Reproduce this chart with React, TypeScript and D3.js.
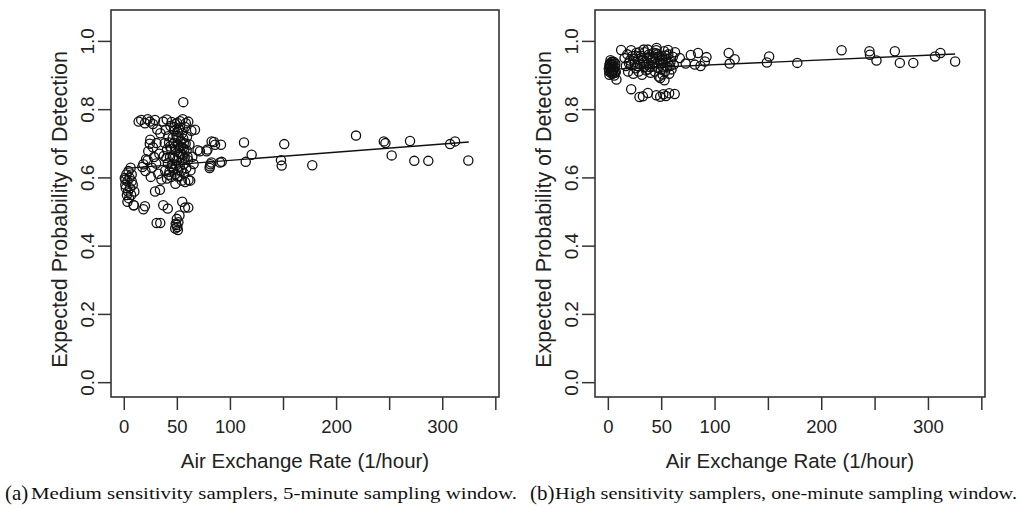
import { scaleLinear, line } from "d3";

const width = 1021;
const height = 508;

// air exchange rate (1/hour), expected probability of detection
const pointsA: [number, number][] = [
  // low rates
  [0.5, 0.6], [1, 0.58], [1.5, 0.57], [2, 0.61], [2.5, 0.55], [3, 0.59], [3.5, 0.56], [4, 0.62],
  [4.5, 0.54], [5, 0.6], [5.5, 0.57], [6, 0.63], [6.5, 0.55], [7, 0.61], [8, 0.58], [9, 0.52],
  [9.5, 0.56], [3, 0.53], [7, 0.59], [1, 0.595], [8.8, 0.52],
  // top row
  [13.5, 0.765], [16, 0.77], [19.5, 0.76], [22, 0.772], [24.2, 0.765], [27, 0.758], [28.9, 0.77],
  [36.7, 0.765], [40, 0.771], [44.6, 0.764], [48, 0.758], [52.5, 0.766], [55, 0.772], [58, 0.76],
  [60.3, 0.765], [55.6, 0.822],
  // 15-35
  [18, 0.64], [20, 0.62], [22, 0.652], [24, 0.7], [24.5, 0.712], [22.6, 0.678], [26, 0.63],
  [28, 0.661], [30, 0.642], [30.4, 0.702], [32, 0.612], [33, 0.671], [34, 0.731], [35, 0.595],
  [33.6, 0.565], [29, 0.56], [25, 0.603], [20.5, 0.655], [17, 0.632], [27, 0.69], [31, 0.742],
  // dense block
  [38.5, 0.621], [37.2, 0.664], [38.1, 0.702], [39, 0.741], [40.3, 0.598], [41, 0.643],
  [40.2, 0.683], [41.4, 0.722], [42.6, 0.618], [43.1, 0.661], [42.2, 0.704], [43.5, 0.752],
  [44.4, 0.603], [45.2, 0.641], [44.1, 0.684], [45.7, 0.718], [46.3, 0.624], [47.1, 0.658],
  [46.6, 0.702], [47.4, 0.738], [48.2, 0.583], [48.9, 0.637], [48.4, 0.679], [49.2, 0.723],
  [50.1, 0.604], [50.6, 0.622], [51.2, 0.662], [50.4, 0.698], [51.5, 0.742], [52.3, 0.633],
  [52.8, 0.671], [53.1, 0.709], [52.6, 0.748], [54.2, 0.592], [54.7, 0.652], [55.1, 0.688],
  [54.4, 0.731], [56.3, 0.613], [56.9, 0.659], [56.1, 0.702], [57.2, 0.749], [58.4, 0.628],
  [58.7, 0.681], [59.1, 0.721], [60.2, 0.652], [60.5, 0.594], [62.1, 0.592], [57.3, 0.588],
  [61.4, 0.698], [63.2, 0.738], [64.1, 0.662], [65.3, 0.641], [62.4, 0.622],
  [45.8, 0.662], [47.9, 0.611], [49.6, 0.652], [51.8, 0.688], [53.7, 0.621], [55.8, 0.641],
  [46.9, 0.749], [49.8, 0.761], [51.1, 0.719], [53.4, 0.692], [55.6, 0.715], [57.8, 0.701],
  [44.8, 0.631], [47.5, 0.691], [50.3, 0.735], [52.1, 0.605], [54.9, 0.668], [56.6, 0.684],
  [43.2, 0.692], [59.6, 0.662], [39.7, 0.658], [41.9, 0.609],
  // right edge of cluster
  [66.6, 0.741], [69.1, 0.681], [71.3, 0.678], [77.6, 0.678], [78.4, 0.683], [80.7, 0.634],
  [80.4, 0.629], [81.2, 0.64], [82.3, 0.707], [84.5, 0.705], [85.5, 0.697], [91.1, 0.697],
  [91.8, 0.647], [90.2, 0.645], [82.1, 0.645],
  // lower
  [19.5, 0.517], [18, 0.508], [30.5, 0.468], [33.9, 0.468], [36.7, 0.52], [41, 0.51],
  [48, 0.452], [49, 0.462], [50, 0.456], [51, 0.47], [49.5, 0.48], [48.5, 0.466], [50.5, 0.447],
  [57.2, 0.513], [60.3, 0.513], [52, 0.49], [54.6, 0.53],
  // sparse
  [112.8, 0.704], [114.4, 0.647], [120, 0.668], [147.6, 0.652], [148.3, 0.636], [150.7, 0.699],
  [177.1, 0.637], [218.3, 0.724], [244.5, 0.707], [246, 0.702], [251.9, 0.666], [269.2, 0.708],
  [273.2, 0.65], [286.4, 0.65], [306.9, 0.699], [311.6, 0.707], [324.1, 0.651],
];

const pointsB: [number, number][] = [
  // low rates
  [0.5, 0.92], [1, 0.902], [1.5, 0.935], [2, 0.91], [2.5, 0.925], [3, 0.94], [3.5, 0.905],
  [4, 0.93], [4.5, 0.915], [5, 0.94], [5.5, 0.9], [6, 0.925], [1, 0.93], [2, 0.945], [3, 0.915],
  [4, 0.906], [6.5, 0.935], [7.6, 0.888], [7, 0.91], [0.8, 0.912], [2.8, 0.932], [5.2, 0.918],
  [1.8, 0.922], [4.2, 0.938], [6.2, 0.908],
  // top row
  [12, 0.975], [21.4, 0.974], [37, 0.976], [45, 0.974], [56, 0.975],
  // main block
  [15.2, 0.951], [16.4, 0.928], [17.8, 0.962], [18.5, 0.912], [20.1, 0.944], [21.3, 0.931],
  [22.6, 0.957], [23.4, 0.905], [24.9, 0.94], [25.7, 0.921], [26.2, 0.966], [27.8, 0.948],
  [28.4, 0.912], [29.6, 0.933], [30.3, 0.958], [31.5, 0.902], [32.2, 0.944], [33.6, 0.925],
  [34.1, 0.968], [35.4, 0.915], [36.3, 0.951], [37.7, 0.936], [38.2, 0.962], [39.5, 0.908],
  [40.1, 0.945], [41.4, 0.926], [42.3, 0.967], [43.6, 0.912], [44.2, 0.952], [45.5, 0.935],
  [46.1, 0.962], [47.3, 0.897], [48.2, 0.944], [49.4, 0.918], [50.1, 0.958], [50.8, 0.903],
  [51.6, 0.937], [52.3, 0.971], [53.2, 0.912], [54.1, 0.948], [55.3, 0.926], [56.2, 0.962],
  [57.1, 0.905], [58.3, 0.941], [59.2, 0.918], [60.4, 0.955], [61.3, 0.932], [62.5, 0.968],
  [48.7, 0.893], [52.6, 0.886], [45.2, 0.981], [33.1, 0.976],
  [19.3, 0.936], [23.8, 0.949], [27.1, 0.928], [31.2, 0.952], [35.8, 0.932], [39.2, 0.955],
  [42.8, 0.938], [46.7, 0.922], [49.1, 0.935], [51.3, 0.924], [53.8, 0.958], [57.6, 0.928],
  [28.9, 0.968], [36.8, 0.918], [44.7, 0.965], [50.6, 0.948], [55.9, 0.941], [41.9, 0.951],
  [47.8, 0.956], [38.9, 0.925], [25.3, 0.958], [33.4, 0.939],
  // right edge of cluster
  [67, 0.951], [72.5, 0.935], [77.3, 0.96], [81, 0.932], [84.1, 0.966], [90.5, 0.941],
  [92, 0.954], [86.4, 0.928],
  // lower group
  [21.4, 0.86], [29.2, 0.837], [32.4, 0.839], [37.1, 0.849], [45, 0.842], [48.6, 0.838],
  [51.5, 0.845], [54, 0.84], [57, 0.848], [62.2, 0.846],
  // sparse
  [112.8, 0.966], [118.4, 0.948], [113.7, 0.935], [150.7, 0.956], [148.6, 0.938], [177.1, 0.937],
  [218.6, 0.974], [244.7, 0.971], [245.2, 0.961], [251.3, 0.944], [268.5, 0.971], [273.2, 0.937],
  [285.8, 0.937], [306.2, 0.956], [311.2, 0.966], [325, 0.941],
];

// fitted lines
const fitA: [number, number][] = [[1, 0.628], [324.5, 0.705]];
const fitB: [number, number][] = [[1, 0.918], [325, 0.963]];

const xTicks = [0, 50, 100, 150, 200, 250, 300, 350];
const xTickLabels = ["0", "50", "100", "", "200", "", "300", ""];
const yTicks = [0, 0.2, 0.4, 0.6, 0.8, 1.0];
const yTickLabels = ["0.0", "0.2", "0.4", "0.6", "0.8", "1.0"];

const xLabel = "Air Exchange Rate (1/hour)";
const yLabel = "Expected Probability of Detection";
const captionA = "Medium sensitivity samplers, 5-minute sampling window.";
const captionB = "High sensitivity samplers, one-minute sampling window.";

const top = 10;
const bottom = 397;
const sans = "'Liberation Sans', Arial, sans-serif";
const serif = "'Liberation Serif', 'Times New Roman', serif";

function Panel({ x0, x1, points, fit }: { x0: number; x1: number; points: [number, number][]; fit: [number, number][] }) {
  const xScale = scaleLinear().domain([-12.5, 353]).range([x0, x1]);
  const yScale = scaleLinear().domain([-0.042, 1.092]).range([bottom, top]);
  const path = line<[number, number]>().x(d => xScale(d[0])).y(d => yScale(d[1]));
  const cx = (x0 + x1) / 2;
  const cy = (top + bottom) / 2;

  return (
    <g>
      <rect x={x0} y={top} width={x1 - x0} height={bottom - top} fill="none" stroke="#333" strokeWidth={1.6} />
      {xTicks.map((t, i) => (
        <g key={"x" + t}>
          <line x1={xScale(t)} x2={xScale(t)} y1={bottom} y2={bottom + 13} stroke="#333" strokeWidth={1.5} />
          <text x={xScale(t)} y={426} textAnchor="middle" dominantBaseline="central" fontSize={18.5} fontFamily={sans} fill="#222">
            {xTickLabels[i]}
          </text>
        </g>
      ))}
      {yTicks.map((t, i) => (
        <g key={"y" + t}>
          <line x1={x0 - 13} x2={x0} y1={yScale(t)} y2={yScale(t)} stroke="#333" strokeWidth={1.5} />
          <text transform={`translate(${x0 - 24},${yScale(t)}) rotate(-90)`} textAnchor="middle" dominantBaseline="central" fontSize={19} fontFamily={sans} fill="#222">
            {yTickLabels[i]}
          </text>
        </g>
      ))}
      <text x={cx} y={460} textAnchor="middle" dominantBaseline="central" fontSize={20.5} fontFamily={sans} fill="#222">
        {xLabel}
      </text>
      <text transform={`translate(${x0 - 51},${cy + 6}) rotate(-90)`} textAnchor="middle" dominantBaseline="central" fontSize={21.5} fontFamily={sans} fill="#222">
        {yLabel}
      </text>
      {points.map((d, i) => (
        <circle key={i} cx={xScale(d[0])} cy={yScale(d[1])} r={4.6} fill="none" stroke="#111" strokeWidth={1.3} />
      ))}
      <path d={path(fit) ?? ""} fill="none" stroke="#111" strokeWidth={1.4} />
    </g>
  );
}

export default function App() {
  return (
    <svg width={width} height={height} style={{ position: "absolute", left: 0, top: 0, background: "#fff" }}>
      <Panel x0={111} x1={499} points={pointsA} fit={fitA} />
      <Panel x0={595} x1={985} points={pointsB} fit={fitB} />
      <text x={5} y={500} fontFamily={serif} fontSize={21} fill="#111">(a)</text>
      <text x={31} y={499} fontFamily={serif} fontSize={16.5} fill="#111" textLength={486} lengthAdjust="spacingAndGlyphs">
        {captionA}
      </text>
      <text x={530} y={500} fontFamily={serif} fontSize={21} fill="#111">(b)</text>
      <text x={555} y={499} fontFamily={serif} fontSize={16.5} fill="#111" textLength={462} lengthAdjust="spacingAndGlyphs">
        {captionB}
      </text>
    </svg>
  );
}
